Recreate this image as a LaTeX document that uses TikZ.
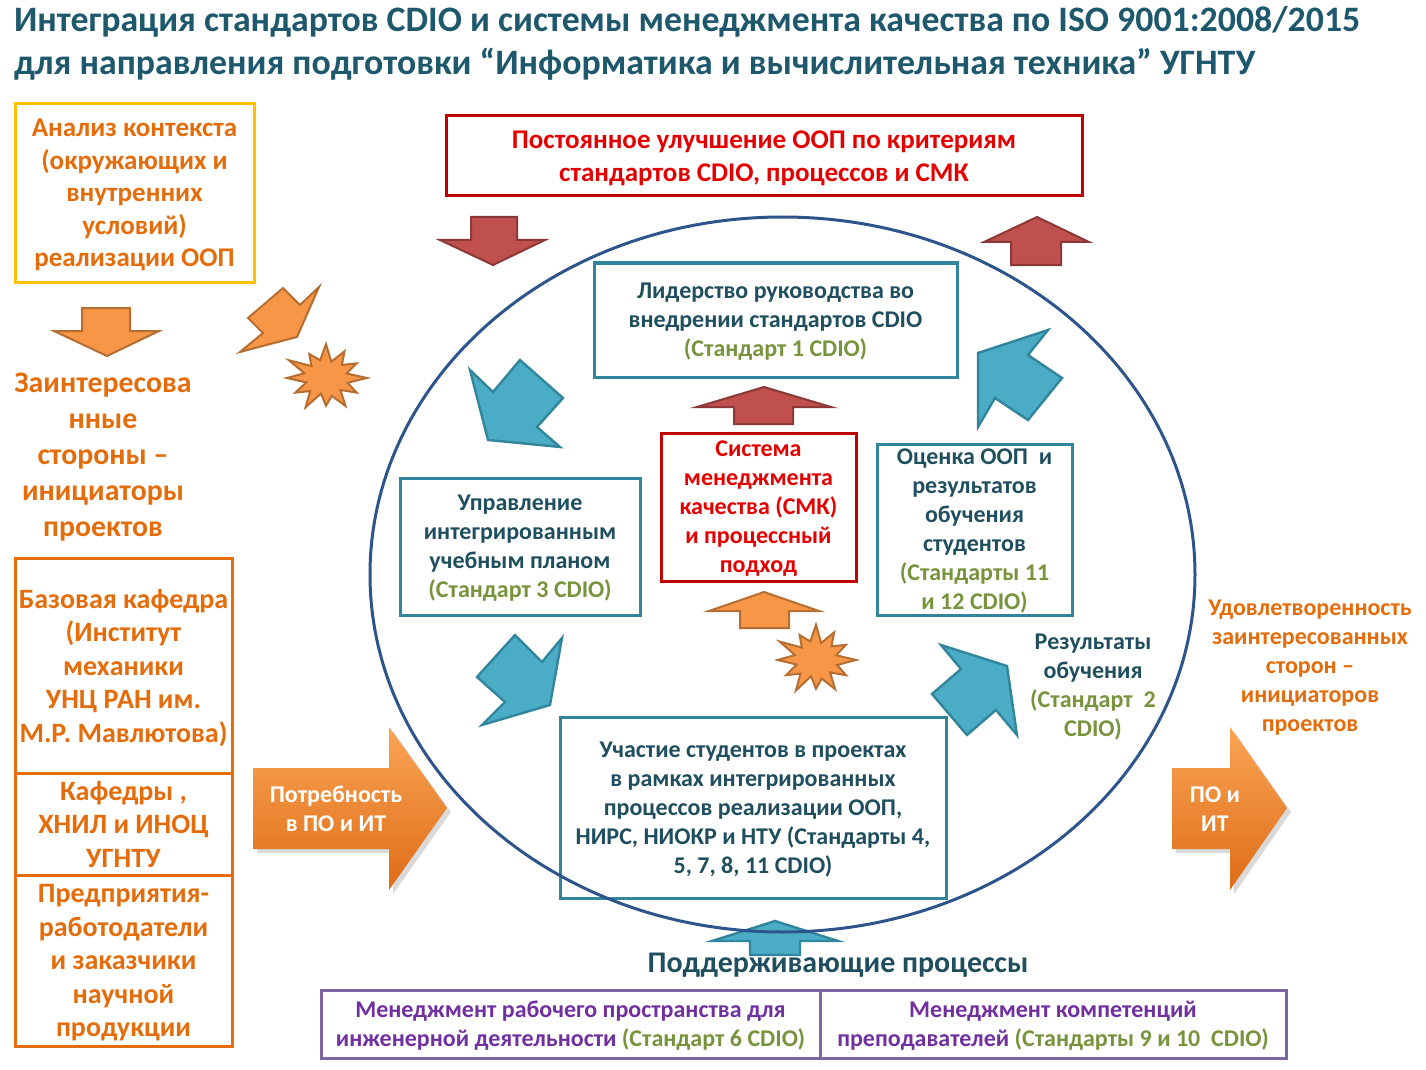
\documentclass[tikz,border=0pt]{standalone}
\usepackage{fontspec}
\setmainfont{Carlito}
\usetikzlibrary{positioning,shadows}
\definecolor{titleteal}{RGB}{30,88,108}
\definecolor{darkteal}{RGB}{31,78,94}
\definecolor{tealline}{RGB}{49,133,156}
\definecolor{tealfill}{RGB}{75,172,198}
\definecolor{olivegreen}{RGB}{119,147,60}
\definecolor{orangetext}{RGB}{228,108,10}
\definecolor{orangefill}{RGB}{247,150,70}
\definecolor{orangeline}{RGB}{182,109,49}
\definecolor{goldline}{RGB}{255,192,0}
\definecolor{darkred}{RGB}{192,0,0}
\definecolor{brightred}{RGB}{228,0,0}
\definecolor{redfill}{RGB}{192,80,77}
\definecolor{redline}{RGB}{140,56,54}
\definecolor{circleblue}{RGB}{46,84,140}
\definecolor{purpleline}{RGB}{128,100,162}
\definecolor{purpletext}{RGB}{112,48,160}
\definecolor{gradtop}{RGB}{250,165,85}
\definecolor{gradbot}{RGB}{222,108,22}
\newcommand{\titlefont}{\fontsize{17.9}{21}\selectfont\bfseries}
\newcommand{\boxfont}{\fontsize{12}{14.5}\selectfont\bfseries}
\newcommand{\stackfont}{\fontsize{14}{16.75}\selectfont\bfseries}
\newcommand{\std}[1]{\textcolor{olivegreen}{#1}}

\begin{document}
\begin{tikzpicture}[x=0.5pt,y=-0.5pt, every node/.style={align=center,inner sep=0pt,outer sep=0pt,text depth=0pt},
  tealbox/.style={draw=tealline,line width=1.5pt,text=darkteal,font=\boxfont},
  redbox/.style={draw=darkred,line width=1.5pt,text=brightred,font=\boxfont},
  orangebox/.style={draw=orangetext,line width=1.5pt,text=orangetext,font=\stackfont,minimum width=108.5pt},
  purplebox/.style={draw=purpleline,line width=1.5pt,text=purpletext,font=\boxfont,minimum height=34pt},
  redarrow/.style={fill=redfill,draw=redline,line width=1pt},
  orangearrow/.style={fill=orangefill,draw=orangeline,line width=1pt},
  bluearrow/.style={fill=tealfill,draw=tealline,line width=1.2pt},
  bigarrow/.style={top color=gradtop,bottom color=gradbot,drop shadow={shadow xshift=2pt,shadow yshift=-2pt,opacity=0.3}},
  pics/burst/.style={code={
    \draw[orangearrow] (0:44) \foreach \a/\r in {15/24,30/38,45/22,60/42,75/24,90/36,105/21,120/44,135/24,150/38,165/22,180/42,195/24,210/46,225/22,240/36,255/24,270/44,285/22,300/40,315/24,330/38,345/23} {-- (\a:\r)} -- cycle;
  }}]
\useasboundingbox (0,0) rectangle (1426,1070);

% title
\node[anchor=base west,font=\titlefont,text=titleteal] (title1) at (14,32) {Интеграция стандартов CDIO и системы менеджмента качества по ISO 9001:2008/2015};
\node[anchor=base west,font=\titlefont,text=titleteal] (title2) at (14,75) {для направления подготовки “Информатика и вычислительная техника” УГНТУ};

% left column
\node[draw=goldline,line width=1.5pt,text=orangetext,font=\fontsize{13.5}{16.25}\selectfont\bfseries,minimum width=119.5pt,minimum height=89pt] (context) at (134.5,193) {Анализ контекста\\(окружающих и\\внутренних\\условий)\\реализации ООП};
\draw[orangearrow] (82,308) -- (130,308) -- (130,331) -- (159,331) -- (107,356) -- (54,331) -- (82,331) -- cycle;
\node[text=orangetext,font=\fontsize{14.9}{18}\selectfont\bfseries] (stakeholders) at (103,455) {Заинтересова\\нные\\стороны –\\инициаторы\\проектов};
\node[orangebox,minimum height=107.5pt] (basedep) at (123.5,665.5) {Базовая кафедра\\(Институт\\механики\\УНЦ РАН им.\\М.Р. Мавлютова)};
\node[orangebox,minimum height=51pt,below=0pt of basedep] (kafedry) {Кафедры ,\\ХНИЛ и ИНОЦ\\УГНТУ};
\node[orangebox,minimum height=85.5pt,below=0pt of kafedry] (employers) {Предприятия-\\работодатели\\и заказчики\\научной\\продукции};

\draw[orangearrow] (248,318) -- (283,288) -- (300,305) -- (319,287) -- (297,337) -- (240,352) -- (263,333) -- cycle;
\pic[xscale=0.93,yscale=0.77] (burstleft) at (326,378) {burst};

% big orange arrows
\path[bigarrow] (253,768) -- (389,768) -- (389,727) -- (447,808) -- (389,890) -- (389,849) -- (253,849) -- cycle;
\node[text=white,font=\boxfont,text depth=] (need) at (336,809) {Потребность\\в ПО и ИТ};
\path[bigarrow] (1172,768) -- (1230,768) -- (1230,727) -- (1287,808) -- (1230,890) -- (1230,849) -- (1172,849) -- cycle;
\node[text=white,font=\boxfont,text depth=] (soft) at (1215,809) {ПО и\\ИТ};
\node[text=orangetext,font=\boxfont] (satisfaction) at (1310,666) {Удовлетворенность\\заинтересованных\\сторон –\\инициаторов\\проектов};

% top improvement box
\node[redbox,font=\fontsize{13.5}{16.5}\selectfont\bfseries,minimum width=318pt,minimum height=40pt] (improve) at (764,156) {Постоянное улучшение ООП по критериям\\стандартов CDIO, процессов и СМК};
\draw[redarrow] (471,217) -- (517,217) -- (517,240) -- (545,240) -- (493,265) -- (440,240) -- (471,240) -- cycle;
\draw[redarrow] (1011,265) -- (1061,265) -- (1061,242) -- (1089,242) -- (1037,217) -- (984,242) -- (1011,242) -- cycle;

% cycle inside the circle
\node[tealbox,minimum width=181.5pt,minimum height=57pt] (leader) at (775.5,320) {Лидерство руководства во\\внедрении стандартов CDIO\\\std{(Стандарт 1 CDIO)}};
\node[redbox,minimum width=97.5pt,minimum height=74pt] (qms) at (758.5,507) {Система\\менеджмента\\качества (СМК)\\и процессный\\подход};
\node[tealbox,minimum width=120pt,minimum height=68.5pt] (curriculum) at (520,546.5) {Управление\\интегрированным\\учебным планом\\\std{(Стандарт 3 CDIO)}};
\node[tealbox,minimum width=97.5pt,minimum height=85.5pt] (assess) at (974.5,529.5) {Оценка ООП~ и\\результатов\\обучения\\студентов\\\std{(Стандарты 11}\\\std{и 12 CDIO)}};
\node[tealbox,minimum width=193pt,minimum height=90.5pt] (projects) at (753,807.5) {Участие студентов в проектах\\в рамках интегрированных\\процессов реализации ООП,\\НИРС, НИОКР и НТУ (Стандарты 4,\\5, 7, 8, 11 CDIO)};
\node[text=darkteal,font=\boxfont] (outcomes) at (1093,685.5) {Результаты\\обучения\\\std{(Стандарт~ 2}\\\std{CDIO)}};

\draw[redarrow] (734,424) -- (793,424) -- (793,407) -- (831,407) -- (764,387) -- (697,407) -- (734,407) -- cycle;
\draw[orangearrow] (740,628) -- (789,628) -- (789,611) -- (819,611) -- (764,592) -- (709,611) -- (740,611) -- cycle;
\pic[xscale=0.91,yscale=0.8] (burstmid) at (816,660) {burst};

\draw[bluearrow] (470,370) -- (493,392) -- (520,360) -- (563,398) -- (537,427) -- (560,447) -- (488,440) -- cycle;
\draw[bluearrow] (978,353) -- (1048,330) -- (1028,355) -- (1062,378) -- (1028,420) -- (995,398) -- (978,427) -- cycle;
\draw[bluearrow] (477,677) -- (515,635) -- (542,662) -- (562,638) -- (550,705) -- (482,725) -- (505,702) -- cycle;
\draw[bluearrow] (1007,666) -- (1017,735) -- (996,710) -- (967,735) -- (932,694) -- (961,669) -- (941,645) -- cycle;

% supporting processes
\draw[bluearrow] (750,955) -- (800,955) -- (800,941) -- (838,941) -- (775,921) -- (712,941) -- (750,941) -- cycle;
\draw[circleblue,line width=1.5pt] (782.5,574.5) ellipse [x radius=412.5,y radius=357.5];
\node[text=darkteal,font=\fontsize{15}{18}\selectfont\bfseries] (support) at (838,963) {Поддерживающие процессы};
\node[purplebox,minimum width=249.5pt] (workspace) at (570.5,1024) {Менеджмент рабочего пространства для\\инженерной деятельности \std{(Стандарт 6 CDIO)}};
\node[purplebox,minimum width=233pt,right=0pt of workspace] (competence) {Менеджмент компетенций\\преподавателей \std{(Стандарты 9 и 10~ CDIO)}};
\end{tikzpicture}
\end{document}
